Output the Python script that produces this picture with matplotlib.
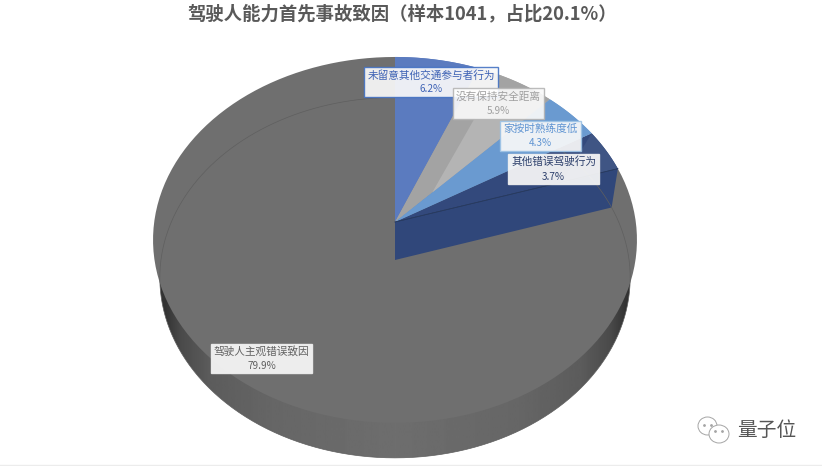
import numpy as np
import matplotlib
matplotlib.use("Agg")
import matplotlib.pyplot as plt
from matplotlib.patches import Polygon, Ellipse, Rectangle

plt.rcParams['font.family'] = ['Noto Sans CJK SC', 'DejaVu Sans']

title = "驾驶人能力首先事故致因（样本1041，占比20.1%）"
labels = ["未留意其他交通参与者行为", "没有保持安全距离", "家按时熟练度低", "其他错误驾驶行为", "驾驶人主观错误致因"]
values = [6.2, 5.9, 4.3, 3.7, 79.9]
colors = ["#5b7bbf", "#a3a3a3", "#6a9ad0", "#33497c", "#6f6f6f"]
text_colors = ["#3f63b5", "#a0a0a0", "#5f94d2", "#2c3f6b", "#606060"]
edge_colors = ["#4472c4", "#b5b5b5", "#9dc3e6", "#f2f2f2", "#f2f2f2"]
label_centers = [(431, 82), (498.5, 103.5), (540.5, 136), (553.5, 169), (261.5, 358.5)]
label_sizes = [(134, 30), (91, 31), (81, 30), (91, 30), (101, 29)]

W, H = 822, 466
fig = plt.figure(figsize=(W / 100, H / 100), dpi=100)
ax = fig.add_axes([0, 0, 1, 1])
ax.set_xlim(0, W)
ax.set_ylim(H, 0)
ax.axis("off")

K, A, B = 0.098, 240.8, 181.2


def rim(theta, cx, cy, sx, sy):
    u, v = np.sin(theta), np.cos(theta)
    d = 1 + K * v
    return cx + sx * A * u / d, cy - sy * B * v / d


TOP = (395, 222, 1.0, 1.0)
BOT = (395, 260, 0.972, 0.985)


def lerp(theta, f):
    x, y = rim(theta, *TOP)
    return TOP[0] + f * (x - TOP[0]), TOP[1] + f * (y - TOP[1])


# outer wall gradient clipped to the bottom face
full = np.linspace(0, 2 * np.pi, 361)
bx, by = rim(full, *BOT)
grad_x = np.linspace(0, 1, 256)
stops_x = [0, 0.03, 0.06, 0.12, 0.25, 0.5, 0.75, 0.88, 0.94, 0.97, 1]
stops_v = [0.2, 0.2, 0.29, 0.36, 0.40, 0.43, 0.40, 0.36, 0.29, 0.2, 0.2]
img = np.interp(grad_x, stops_x, stops_v)[None, :]
im = ax.imshow(img, cmap="gray", vmin=0, vmax=1, extent=(150, 640, 470, 50), aspect="auto", zorder=1)
clip = Polygon(np.column_stack([bx, by]), closed=True, transform=ax.transData, fc="none", ec="none")
ax.add_patch(clip)
im.set_clip_path(clip)
ax.set_xlim(0, W)
ax.set_ylim(H, 0)

# top faces
fr = np.cumsum([0] + values) / sum(values) * 2 * np.pi
for i in range(len(values)):
    t = np.linspace(fr[i], fr[i + 1], 120)
    x, y = rim(t, *TOP)
    pts = np.column_stack([np.r_[TOP[0], x], np.r_[TOP[1], y]])
    ax.add_patch(Polygon(pts, closed=True, fc=colors[i], ec="none", zorder=2))

# cut wall of the separated group
a = fr[4]
x0, y0 = rim(a, *TOP)
x1, y1 = rim(a, *BOT)
ax.add_patch(Polygon([(TOP[0], TOP[1]), (x0, y0), (x1, y1), (BOT[0], BOT[1])], closed=True, fc="#30477a", ec="none", zorder=3))
ax.plot([TOP[0], x0], [TOP[1], y0], color="#26395f", lw=0.5, zorder=4)
# lighter outer corner of the navy slice
t = np.linspace(fr[3], fr[4], 30)
x, y = rim(t, *TOP)
ax.add_patch(Polygon(np.column_stack([np.r_[x[0], x, x[0] - 30], np.r_[y[0], y, y[0] + 50]]), closed=True, fc="#3f5584", ec="none", zorder=3))

# faint see-through outline of the bottom face
ax.plot(bx, by, color="#5f5f5f", lw=0.5, zorder=3.5)
for i in range(3):
    t = np.linspace(fr[i], fr[i + 1], 120)
    x, y = rim(t, *TOP)
    pts = np.column_stack([np.r_[TOP[0], x], np.r_[TOP[1], y]])
    ax.add_patch(Polygon(pts, closed=True, fc=colors[i], ec="none", zorder=3.6))
ax.plot([TOP[0], x0], [TOP[1], y0], color="#26395f", lw=0.5, zorder=3.7)
# lighter facet on the grey slice
facet = [lerp(fr[2], 0.24), lerp(np.radians(30), 0.72), lerp(fr[2], 0.85)]
ax.add_patch(Polygon(facet, closed=True, fc="#b4b4b4", ec="none", zorder=3.7))

# data labels
for i, (lab, v) in enumerate(zip(labels, values)):
    cx, cy = label_centers[i]
    w, h = label_sizes[i]
    ax.add_patch(Rectangle((cx - w / 2 + 0.5, cy - h / 2 + 1), w, h, fc="#000000", alpha=0.22, ec="none", zorder=5))
    ax.add_patch(Rectangle((cx - w / 2, cy - h / 2), w, h, fc="#ffffff", alpha=0.9, ec=edge_colors[i], lw=1, zorder=6))
    ax.text(cx, cy - 7, lab, ha="center", va="center", fontsize=7.7, color=text_colors[i], zorder=7)
    ax.text(cx, cy + 7.5, f"{v:.1f}%", ha="center", va="center", fontsize=7.2, color=text_colors[i], zorder=7)

ax.text(402, 14, title, ha="center", va="center", fontsize=13.2, fontweight="bold", color="#595959", zorder=8)

# watermark
for (cx, cy, w, h) in [(707.5, 426, 19, 18), (719, 434, 20, 18)]:
    ax.add_patch(Ellipse((cx, cy), w, h, fc="white", ec="#a5a5a5", lw=0.7, zorder=8))
ax.plot([704, 711, 715, 722], [425, 425, 431, 431], ls="none", marker="o", ms=1, color="#a5a5a5", zorder=9)
ax.text(766.5, 430, "量子位", ha="center", va="center", fontsize=14.2, color="#555555", zorder=8)
ax.plot([0, W], [464.5, 464.5], color="#ececec", lw=1, zorder=8)

fig.savefig("out.png", dpi=100)
